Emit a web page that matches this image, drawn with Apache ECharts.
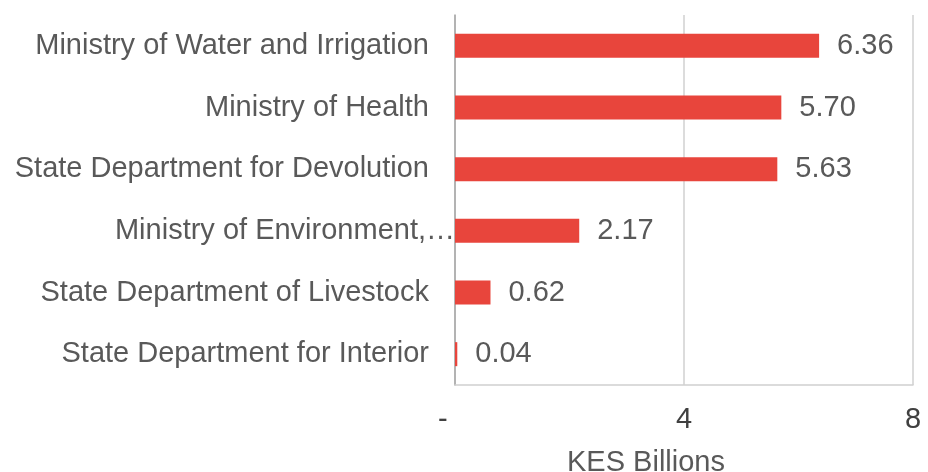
<!DOCTYPE html>
<html>
<head>
<meta charset="utf-8">
<script src="https://cdn.jsdelivr.net/npm/echarts@6/dist/echarts.min.js"></script>
<style>
  html, body { margin: 0; padding: 0; background: #fff; }
  #main { width: 928px; height: 472px; }
</style>
</head>
<body>
<div id="main"></div>
<script>
var categories = [
    'Ministry of Water and Irrigation',
    'Ministry of Health',
    'State Department for Devolution',
    'Ministry of Environment,\u2026',
    'State Department of Livestock',
    'State Department for Interior'
];
var values = [6.36, 5.70, 5.63, 2.17, 0.62, 0.04];
var tickValues = [0, 4, 8];

var myChart = echarts.init(document.getElementById('main'));
var font = 'Liberation Sans, Arial, sans-serif';
var fs = 29;

var option = {
    animation: false,
    grid: { left: 455, right: 15, top: 15, bottom: 87, outerBoundsMode: 'none' },
    xAxis: {
        type: 'value',
        min: 0,
        max: 8,
        interval: 4,
        name: 'KES Billions',
        nameLocation: 'middle',
        nameGap: 63,
        nameTextStyle: { color: '#595959', fontSize: fs, fontFamily: font, padding: [0, 76, 0, 0] },
        axisLine: { show: true, lineStyle: { color: '#d0d0d0', width: 1.5 } },
        axisTick: { show: false },
        splitLine: { show: true, lineStyle: { color: '#d0d0d0', width: 1.5 } },
        axisLabel: {
            color: '#404040', fontSize: fs, fontFamily: font, margin: 20,
            formatter: function (v) {
                if (tickValues.indexOf(v) < 0) return '';
                return v === 0 ? '-   ' : String(v);
            }
        }
    },
    yAxis: {
        type: 'category',
        inverse: true,
        data: categories,
        axisLine: { show: true, lineStyle: { color: '#a6a6a6', width: 1.5 } },
        axisTick: { show: false },
        axisLabel: {
            margin: 0,
            fontSize: fs, fontFamily: font, color: '#595959',
            formatter: function (v) {
                return v.indexOf('\u2026') >= 0 ? '{e|' + v + '}' : '{n|' + v + '}';
            },
            rich: {
                n: { fontSize: fs, fontFamily: font, color: '#595959', padding: [0, 26, 0, 0] },
                e: { fontSize: fs, fontFamily: font, color: '#595959', padding: [0, 0, 0, 0] }
            }
        }
    },
    series: [{
        type: 'bar',
        data: values,
        barWidth: 24,
        itemStyle: { color: '#e8453c' },
        label: {
            show: true,
            position: 'right',
            distance: 18,
            color: '#595959',
            fontSize: fs,
            fontFamily: font,
            formatter: function (p) { return p.value.toFixed(2); }
        }
    }]
};
myChart.setOption(option);
</script>
</body>
</html>
